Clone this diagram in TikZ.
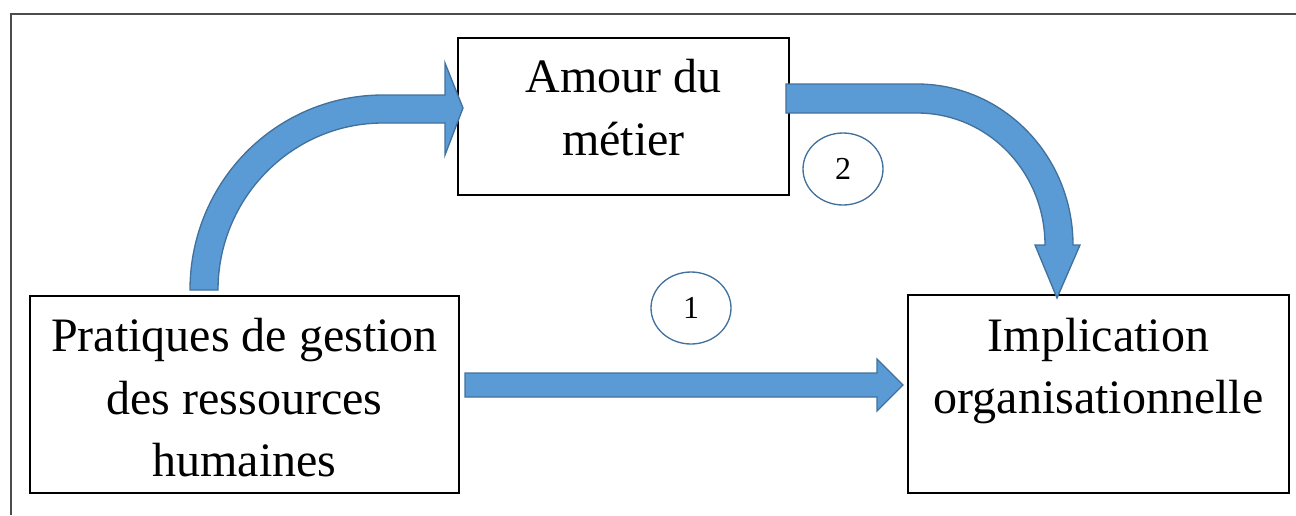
\documentclass[tikz,border=0pt]{standalone}
\usepackage{fontspec}
\setmainfont{Liberation Serif}
\usepackage{xcolor}
\usetikzlibrary{shapes.geometric,positioning}
\definecolor{flechefill}{HTML}{5B9BD5}
\definecolor{flecheline}{HTML}{41719C}
\tikzset{
  bloc/.style={draw=black, line width=0.9pt, fill=white, inner sep=0pt},
  texte/.style={align=center, inner sep=0pt, font=\fontsize{36}{47}\selectfont},
  fleche/.style={fill=flechefill, draw=flecheline, line width=1pt, line join=miter},
  numero/.style={ellipse, draw=flecheline, line width=1pt, fill=white,
    minimum width=60pt, minimum height=54pt, inner sep=0pt,
    font=\fontsize{24}{28}\selectfont}
}

\begin{document}
\begin{tikzpicture}[x=0.75pt, y=-0.75pt]
      \useasboundingbox (0,0) rectangle (1296,515);
      \draw[line width=1.1pt, color=black!70] (11,515) -- (11,14) -- (1296,14);%
      % les trois blocs
      \node[bloc, minimum width=321.75pt, minimum height=147.75pt] (pgrh) at (244.5,394.5) {};
      \node[bloc, minimum width=248.25pt, minimum height=117.75pt] (amour) at (623.5,116.5) {};
      \node[bloc, minimum width=285.75pt, minimum height=148.5pt] (impl) at (1098.5,394) {};
      \node[texte, below=17pt of pgrh.north] (pgrh-t) {Pratiques de gestion\\des ressources\\humaines};
      \node[texte, below=16.5pt of amour.north] (amour-t) {Amour du\\m\'etier};
      \node[texte, below=17.5pt of impl.north] (impl-t) {Implication\\organisationnelle};
      % fleches
      \filldraw[fleche] (465,373) -- (877,373) -- (877,359) -- (903,385) -- (877,411)
            -- (877,397) -- (465,397) -- cycle;% pgrh -> impl
      \filldraw[fleche] (190,290) .. controls (190,182) and (276,95) .. (383,95)
            -- (445,95) -- (445,63) -- (463,108) -- (445,155) -- (445,123) -- (383,123)
            .. controls (292,123) and (218,198) .. (218,290) -- cycle;% pgrh -> amour
      \filldraw[fleche] (786,84) -- (917,84) .. controls (1003,84) and (1073,156) .. (1073,245)
            -- (1080,245) -- (1057,298) -- (1035,245) -- (1045,245)
            .. controls (1045,172) and (988,113) .. (917,113) -- (786,113) -- cycle;% amour -> impl
      % numeros
      \node[numero] (n1) at (691,308) {1};
      \node[numero] (n2) at (843,169) {2};
\end{tikzpicture}
\end{document}
